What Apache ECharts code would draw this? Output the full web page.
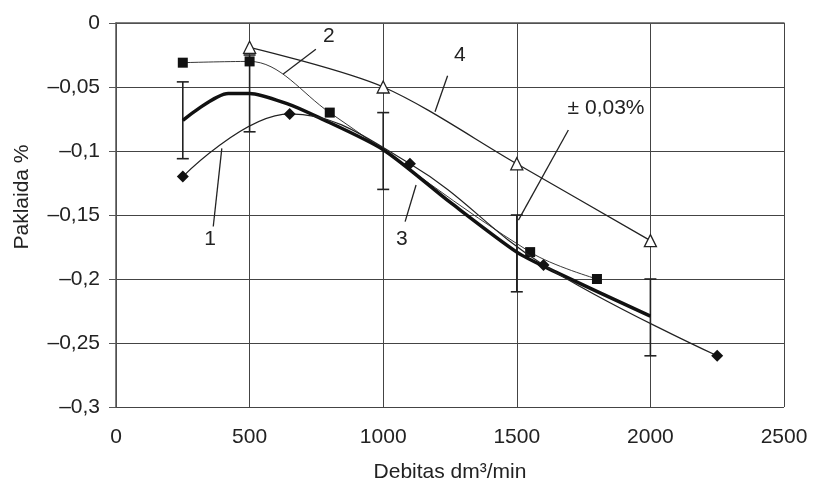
<!DOCTYPE html>
<html>
<head>
<meta charset="utf-8">
<script src="https://cdn.jsdelivr.net/npm/echarts@6/dist/echarts.min.js"></script>
<style>
  html, body { margin: 0; padding: 0; background: #fff; }
  #chart { width: 815px; height: 495px; }
</style>
</head>
<body>
<div id="chart"></div>
<script>
// curve 1 (diamonds)
var s1X = [250, 650, 1100, 1600, 2250];
var s1Y = [-0.120, -0.071, -0.110, -0.189, -0.260];
// curve 2 (squares)
var s2X = [250, 500, 800, 1550, 1800];
var s2Y = [-0.031, -0.030, -0.070, -0.179, -0.200];
// curve 3 (bold, no markers)
var s3X = [250, 420, 500, 640, 750, 1000, 1250, 1500, 1640, 2000];
var s3Y = [-0.076, -0.055, -0.055, -0.063, -0.073, -0.099, -0.140, -0.179, -0.194, -0.229];
// curve 4 (hollow triangles)
var s4X = [500, 1000, 1500, 2000];
var s4Y = [-0.019, -0.050, -0.110, -0.170];
// error bars ±0.03 around curve 3
var errX = [250, 500, 1000, 1500, 2000];
var errLow = [-0.106, -0.085, -0.130, -0.210, -0.260];
var errHigh = [-0.046, -0.025, -0.070, -0.150, -0.200];
// callouts: text, text pos, leader start, leader end (data units)
var calloutText = ['1', '2', '3', '4', '± 0,03%'];
var calloutPos = [[352, -0.169], [797, -0.0102], [1070, -0.169], [1287, -0.0255], [1834, -0.0664]];
var leaderFrom = [[364, -0.159], [748, -0.0205], [1082, -0.1552], [1194, -0.0693], [1693, -0.0836]];
var leaderTo = [[396, -0.0979], [626, -0.0398], [1123, -0.1266], [1241, -0.0412], [1506, -0.154]];

function pairs(xs, ys) {
  return xs.map(function (x, i) { return [x, ys[i]]; });
}

var ink = '#222';
var gridColor = '#444';
var font = 'Liberation Sans, Arial, sans-serif';
var chart = echarts.init(document.getElementById('chart'));

var option = {
  animation: false,
  textStyle: { fontFamily: font, color: ink },
  grid: { left: 116, right: 31, top: 23, bottom: 88 },
  xAxis: {
    type: 'value',
    min: 0, max: 2500, interval: 500,
    name: 'Debitas dm³/min',
    nameLocation: 'middle',
    nameGap: 55,
    nameTextStyle: { fontSize: 21, color: ink },
    axisLine: { show: true, lineStyle: { color: '#555', width: 1.5 } },
    axisTick: { show: false },
    axisLabel: {
      fontSize: 21, color: ink, margin: 20,
      formatter: function (v) { return String(v); }
    },
    splitLine: { show: true, lineStyle: { color: gridColor, width: 1 } }
  },
  yAxis: {
    type: 'value',
    min: -0.3, max: 0, interval: 0.05,
    axisLine: { show: true, onZero: false, lineStyle: { color: '#555', width: 1.5 } },
    axisTick: { show: true, inside: false, length: 7, lineStyle: { color: '#555' } },
    axisLabel: {
      fontSize: 21, color: ink, margin: 16,
      formatter: function (v) {
        if (Math.abs(v) < 1e-9) return '0';
        return '–' + String(+Math.abs(v).toFixed(2)).replace('.', ',');
      }
    },
    splitLine: { show: true, lineStyle: { color: gridColor, width: 1 } }
  },
  graphic: [{
    type: 'text',
    x: 22, y: 197,
    rotation: Math.PI / 2,
    style: {
      text: 'Paklaida %',
      fontSize: 21,
      fontFamily: font,
      fill: ink,
      align: 'center',
      verticalAlign: 'middle'
    }
  }],
  series: [
    {
      name: 'err',
      type: 'custom',
      z: 3,
      data: errX.map(function (x, i) { return [x, errLow[i], errHigh[i]]; }),
      encode: { x: 0, y: [1, 2] },
      renderItem: function (params, api) {
        var lo = api.coord([api.value(0), api.value(1)]);
        var hi = api.coord([api.value(0), api.value(2)]);
        var w = 6;
        var st = { stroke: ink, lineWidth: 1.6 };
        return {
          type: 'group',
          children: [
            { type: 'line', shape: { x1: lo[0], y1: lo[1], x2: hi[0], y2: hi[1] }, style: st },
            { type: 'line', shape: { x1: lo[0] - w, y1: lo[1], x2: lo[0] + w, y2: lo[1] }, style: st },
            { type: 'line', shape: { x1: hi[0] - w, y1: hi[1], x2: hi[0] + w, y2: hi[1] }, style: st }
          ]
        };
      }
    },
    {
      name: '4',
      type: 'line',
      z: 4,
      data: pairs(s4X, s4Y),
      smooth: 0.3,
      symbol: 'triangle',
      symbolSize: 12,
      lineStyle: { color: ink, width: 1.3 },
      itemStyle: { color: '#fff', borderColor: ink, borderWidth: 1.3 }
    },
    {
      name: '2',
      type: 'line',
      z: 5,
      data: pairs(s2X, s2Y),
      smooth: 0.35,
      symbol: 'rect',
      symbolSize: 10,
      lineStyle: { color: ink, width: 0.9 },
      itemStyle: { color: '#111' }
    },
    {
      name: '3',
      type: 'line',
      z: 5,
      data: pairs(s3X, s3Y),
      smooth: 0.25,
      symbol: 'none',
      lineStyle: { color: '#111', width: 3.5 }
    },
    {
      name: '1',
      type: 'line',
      z: 6,
      data: pairs(s1X, s1Y),
      smooth: 0.4,
      symbol: 'diamond',
      symbolSize: 12,
      lineStyle: { color: ink, width: 1.2 },
      itemStyle: { color: '#111' }
    },
    {
      name: 'callouts',
      type: 'custom',
      z: 7,
      data: calloutText.map(function (t, i) {
        return [calloutPos[i][0], calloutPos[i][1], leaderFrom[i][0], leaderFrom[i][1], leaderTo[i][0], leaderTo[i][1]];
      }),
      encode: { x: [0, 2, 4], y: [1, 3, 5] },
      renderItem: function (params, api) {
        var t = api.coord([api.value(0), api.value(1)]);
        var a = api.coord([api.value(2), api.value(3)]);
        var b = api.coord([api.value(4), api.value(5)]);
        return {
          type: 'group',
          children: [
            { type: 'line', shape: { x1: a[0], y1: a[1], x2: b[0], y2: b[1] }, style: { stroke: ink, lineWidth: 1.3 } },
            {
              type: 'text', x: t[0], y: t[1],
              style: {
                text: calloutText[params.dataIndex],
                fontSize: 21,
                fontFamily: font,
                fill: ink, align: 'center', verticalAlign: 'middle'
              }
            }
          ]
        };
      }
    }
  ]
};
chart.setOption(option);
</script>
</body>
</html>
